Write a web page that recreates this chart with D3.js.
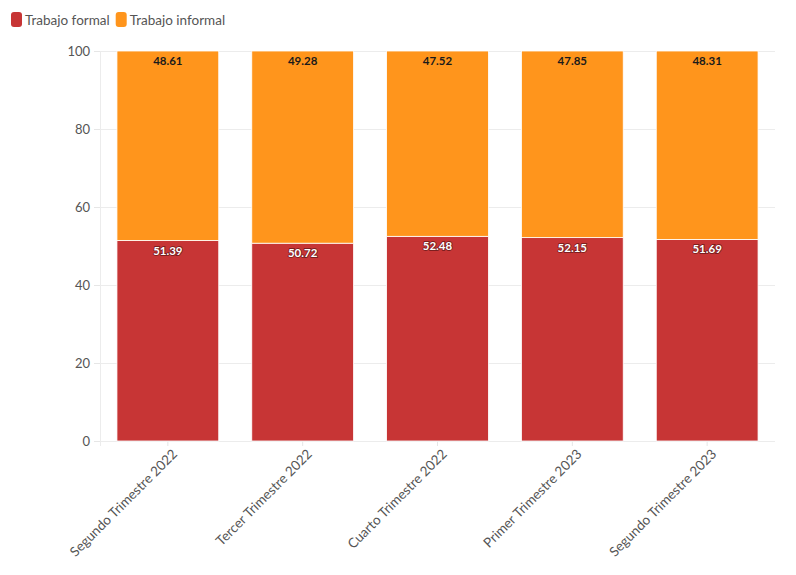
<!DOCTYPE html>
<html>
<head>
<meta charset="utf-8">
<script src="https://cdn.jsdelivr.net/npm/d3@7"></script>
<style>
  body { margin: 0; background: #fff; }
  svg { font-family: Lato, "Open Sans", sans-serif; }
</style>
</head>
<body>
<div id="chart-area"></div>
<script>
// data
var periodos = ["Segundo Trimestre 2022", "Tercer Trimestre 2022", "Cuarto Trimestre 2022",
                "Primer Trimestre 2023", "Segundo Trimestre 2023"];
var formal = [51.39, 50.72, 52.48, 52.15, 51.69];
var informal = [48.61, 49.28, 47.52, 47.85, 48.31];
var series = ["Trabajo formal", "Trabajo informal"];
var colores = ["#c73535", "#ff951c"];
var yTicks = [0, 20, 40, 60, 80, 100];

var W = 796, H = 575;
var svg = d3.select("#chart-area").append("svg")
    .attr("width", W)
    .attr("height", H);

var x = d3.scaleBand()
    .domain(periodos)
    .range([100.5, 774.5])
    .paddingInner(0.245)
    .paddingOuter(0.122);

var y = d3.scaleLinear()
    .domain([0, 100])
    .range([441, 51]);

// grid
svg.append("g").selectAll("line")
    .data(yTicks)
    .enter().append("line")
        .attr("x1", 100).attr("x2", 775)
        .attr("y1", (d) => y(d) + 0.5).attr("y2", (d) => y(d) + 0.5)
        .attr("stroke", "#ececec");

svg.append("line")
    .attr("x1", 100.5).attr("x2", 100.5)
    .attr("y1", 51).attr("y2", 446)
    .attr("stroke", "#ececec");

// y axis
var yAxis = svg.append("g")
    .attr("transform", "translate(100,0)")
    .call(d3.axisLeft(y).tickValues(yTicks).tickSize(6).tickPadding(4));
yAxis.select(".domain").remove();
yAxis.selectAll("line").attr("stroke", "#e6e6e6");
yAxis.selectAll("text").attr("fill", "#555").style("font-size", "13px")
    .style("font-family", "Lato, 'Open Sans', sans-serif");

// x axis
var xAxis = svg.append("g")
    .attr("transform", "translate(0,441)")
    .call(d3.axisBottom(x).tickSize(5).tickPadding(4));
xAxis.select(".domain").remove();
xAxis.selectAll("line").attr("stroke", "#e6e6e6");
xAxis.selectAll("text")
    .attr("fill", "#555")
    .style("font-size", "13.5px")
    .style("font-family", "Lato, 'Open Sans', sans-serif")
    .attr("text-anchor", "end")
    .attr("dx", "-0.2em")
    .attr("dy", "0.6em")
    .attr("transform", "rotate(-45)");

// stacked bars
var rows = periodos.map((p, i) => ({ periodo: p, formal: formal[i], informal: informal[i] }));
var stack = d3.stack().keys(["formal", "informal"])(rows);

var layers = svg.append("g").selectAll("g")
    .data(stack)
    .enter().append("g")
        .attr("fill", (d, i) => colores[i]);

layers.selectAll("rect")
    .data((d) => d)
    .enter().append("rect")
        .attr("x", (d) => x(d.data.periodo))
        .attr("y", (d) => y(d[1]))
        .attr("width", x.bandwidth())
        .attr("height", (d) => y(d[0]) - y(d[1]))
        .attr("stroke", "#fff")
        .attr("stroke-width", 0.8);

// labels
layers.each(function (layer, li) {
    var g = d3.select(this);
    var lbl = g.selectAll("text")
        .data(layer)
        .enter().append("text")
            .attr("x", (d) => x(d.data.periodo) + x.bandwidth() / 2)
            .attr("y", (d) => y(d[1]) + 14)
            .attr("text-anchor", "middle")
            .style("font-size", "11.5px")
            .style("font-weight", "bold")
            .text((d) => d3.format(".2f")(d[1] - d[0]));
    if (li === 0) {
        lbl.attr("fill", "#fff")
            .attr("stroke", "#4a1010")
            .attr("stroke-width", 1.8)
            .attr("stroke-opacity", 0.6)
            .attr("paint-order", "stroke");
    } else {
        lbl.attr("fill", "#1a1a1a");
    }
});

// legend
var legend = svg.append("g").attr("transform", "translate(11,12)");
var lx = 0;
series.forEach((s, i) => {
    var item = legend.append("g").attr("transform", "translate(" + lx + ",0)");
    item.append("rect")
        .attr("width", 11).attr("height", 15)
        .attr("rx", 3)
        .attr("fill", colores[i]);
    var t = item.append("text")
        .attr("x", 14).attr("y", 12.5)
        .attr("fill", "#555")
        .style("font-size", "13.5px")
        .text(s);
    lx += 14 + t.node().getComputedTextLength() + 6;
});
</script>
</body>
</html>
